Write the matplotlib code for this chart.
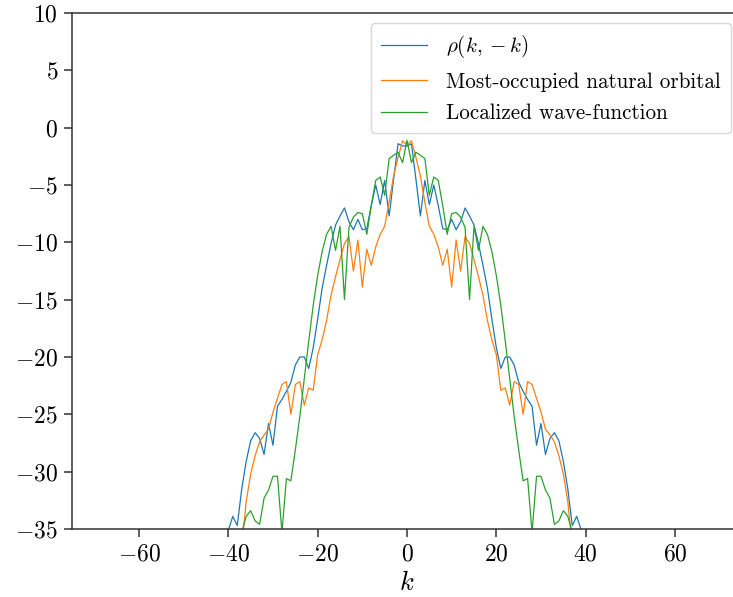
import matplotlib
matplotlib.use("Agg")
import matplotlib.pyplot as plt

plt.rcParams['font.family'] = 'serif'
plt.rcParams['font.serif'] = ['cmr10', 'DejaVu Serif']
plt.rcParams['mathtext.fontset'] = 'cm'
plt.rcParams['axes.formatter.use_mathtext'] = True
plt.rcParams['axes.unicode_minus'] = True

k = list(range(-40, 41))

rho_kmk = [
    -35.1, -33.9, -34.7, -31.5, -29.1, -27.3, -26.6, -27.1, -28.5, -25.8,
    -27.7, -24.3, -23.7, -23.0, -22.2, -20.7, -20.0, -20.0, -21.0, -19.2,
    -16.7, -14.0, -12.0, -10.1, -8.5, -7.7, -7.0, -8.2, -8.9, -8.0,
    -8.9, -8.8, -6.8, -5.0, -6.7, -4.6, -7.7, -4.5, -1.4, -1.6,
    -1.6, -1.4, -4.5, -7.7, -4.6, -6.7, -5.0, -6.8, -8.8, -8.9,
    -8.0, -8.9, -8.2, -7.0, -7.7, -8.5, -10.1, -12.0, -14.0, -16.7,
    -19.2, -21.0, -20.0, -20.0, -20.7, -22.2, -23.0, -23.7, -24.3, -27.7,
    -25.8, -28.5, -27.1, -26.6, -27.3, -29.1, -31.5, -34.7, -33.9, -35.1,
    -38.0,
]

natural_orbital = [
    -44.0, -42.0, -40.0, -36.5, -32.6, -30.2, -28.6, -27.4, -26.8, -26.3,
    -24.8, -23.6, -22.4, -22.15, -25.0, -22.4, -22.15, -24.2, -22.7, -22.9,
    -19.8, -18.5, -16.8, -14.6, -13.0, -11.5, -10.1, -9.5, -12.5, -9.8,
    -13.9, -10.6, -12.0, -10.4, -9.3, -8.6, -6.5, -4.2, -2.6, -1.15,
    -1.5,
    -1.15, -2.6, -4.2, -6.5, -8.6, -9.3, -10.4, -12.0, -10.6, -13.9,
    -9.8, -12.5, -9.5, -10.1, -11.5, -13.0, -14.6, -16.8, -18.5, -19.8,
    -22.9, -22.7, -24.2, -22.15, -22.4, -25.0, -22.15, -22.4, -23.6, -24.8,
    -26.3, -26.8, -27.4, -28.6, -30.2, -32.6, -36.5, -40.0, -42.0, -44.0,
]

localized = [
    -42.0, -40.0, -38.0, -35.3, -33.9, -33.4, -34.3, -34.6, -32.3, -31.6,
    -30.4, -30.4, -35.3, -30.6, -30.8, -28.1, -25.2, -21.9, -18.6, -15.5,
    -12.9, -10.8, -9.3, -8.6, -10.7, -8.6, -15.0, -8.7, -7.8, -7.4,
    -7.5, -9.3, -6.8, -4.6, -4.3, -5.9, -2.7, -2.4, -2.15, -3.05,
    -1.1,
    -3.05, -2.15, -2.4, -2.7, -5.9, -4.3, -4.6, -6.8, -9.3, -7.5,
    -7.4, -7.8, -8.7, -15.0, -8.6, -10.7, -8.6, -9.3, -10.8, -12.9,
    -15.5, -18.6, -21.9, -25.2, -28.1, -30.8, -30.6, -35.3, -30.4, -30.4,
    -31.6, -32.3, -34.6, -34.3, -33.4, -33.9, -35.3, -38.0, -40.0, -42.0,
]

labels = [r'$\rho(k,-k)$', 'Most-occupied natural orbital', 'Localized wave-function']
colors = ['#1f77b4', '#ff7f0e', '#2ca02c']

fig = plt.figure(figsize=(7.33, 5.97), dpi=100)
ax = fig.add_axes([72/733, 68/597, 670/733, 516/597])

for series, lab, c in zip([rho_kmk, natural_orbital, localized], labels, colors):
    ax.plot(k, series, color=c, lw=0.9, label=lab)

ax.set_xlim(-75, 75)
ax.set_ylim(-35, 10)
ax.set_xticks([-60, -40, -20, 0, 20, 40, 60])
ax.set_yticks([-35, -30, -25, -20, -15, -10, -5, 0, 5, 10])

for s in ['top', 'left', 'bottom', 'right']:
    ax.spines[s].set_color('#333333')
    ax.spines[s].set_linewidth(1.1)

ax.tick_params(axis='both', direction='out', length=6, width=1.1, color='#333333',
               labelsize=17, pad=4)
ax.set_xlabel(r'$k$', fontsize=19, labelpad=4)

leg = ax.legend(loc='upper right', fontsize=15.2, frameon=True, fancybox=True,
                bbox_to_anchor=(659/670, 1 - 10/516), borderaxespad=0.0,
                handlelength=2.2, handletextpad=0.9, labelspacing=0.58,
                borderpad=0.47)
leg.get_frame().set_edgecolor('#d0d0d0')
leg.get_frame().set_linewidth(1.0)

fig.savefig('out.png', dpi=100)
